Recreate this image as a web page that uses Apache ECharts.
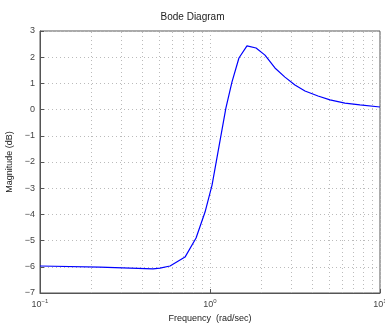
<!DOCTYPE html>
<html><head><meta charset="utf-8">
<script src="https://cdn.jsdelivr.net/npm/echarts@6/dist/echarts.min.js"></script>
<style>html,body{margin:0;padding:0;background:#fff}#c{width:385px;height:327px}</style>
</head><body><div id="c"></div>
<script>
var freq = [0.1, 0.225, 0.462, 0.508, 0.582, 0.713, 0.828, 0.935, 1.028, 1.24, 1.346, 1.48, 1.65, 1.866, 2.106, 2.41, 2.76, 3.16, 3.62, 4.32, 5.08, 6.22, 7.62, 10];
var magDb = [-5.97, -6.01, -6.08, -6.05, -5.97, -5.63, -4.90, -3.91, -2.88, 0.06, 1.05, 1.97, 2.43, 2.35, 2.08, 1.59, 1.24, 0.94, 0.71, 0.52, 0.37, 0.25, 0.18, 0.10];
var minorGrid = [0.2,0.3,0.4,0.5,0.6,0.7,0.8,0.9,2,3,4,5,6,7,8,9];

var chart = echarts.init(document.getElementById('c'));
var font = 'Liberation Sans';
var dotted = {color:'#bbbbbb', width:1, type:[1,3]};
chart.setOption({
  animation:false,
  title:{text:'Bode Diagram', left:'center', top:7, textStyle:{fontFamily:font, fontSize:10, fontWeight:'normal', color:'#222'}},
  grid:{left:40, right:5, top:31, bottom:34, show:true, borderColor:'#555', borderWidth:1, outerBoundsMode:'none', containLabel:false},
  xAxis:{type:'log', logBase:10, min:0.1, max:10,
    name:'Frequency  (rad/sec)', nameLocation:'middle', nameGap:18,
    nameTextStyle:{fontFamily:font, fontSize:9, color:'#222'},
    axisLine:{onZero:false, lineStyle:{color:'#555'}},
    axisTick:{inside:true, length:4, lineStyle:{color:'#555'}},
    splitLine:{show:true, lineStyle:dotted},
    axisLabel:{margin:5, fontFamily:font, fontSize:9, color:'#444',
      formatter:function(v){var e=Math.round(Math.log10(v));return '10{sup|'+(e<0?'\u2212'+(-e):e)+'}';},
      rich:{sup:{fontSize:6, fontFamily:font, color:'#444', padding:[0,0,7,0]}}}
  },
  yAxis:{type:'value', min:-7, max:3, interval:1,
    name:'Magnitude (dB)', nameLocation:'middle', nameGap:24,
    nameTextStyle:{fontFamily:font, fontSize:9, color:'#222'},
    axisLine:{onZero:false, lineStyle:{color:'#555'}},
    axisTick:{inside:true, length:4, lineStyle:{color:'#555'}},
    splitLine:{show:true, lineStyle:dotted},
    axisLabel:{margin:5, fontFamily:font, fontSize:9, color:'#444',
      formatter:function(v){return String(v).replace('-','\u2212');}}
  },
  series:[{type:'line', data:freq.map(function(f,i){return [f, magDb[i]];}),
    showSymbol:false, lineStyle:{color:'#0000ff', width:1.2}, z:5,
    markLine:{silent:true, symbol:'none', label:{show:false}, lineStyle:dotted,
      data:minorGrid.map(function(v){return {xAxis:v};})}
  }]
});
</script></body></html>
